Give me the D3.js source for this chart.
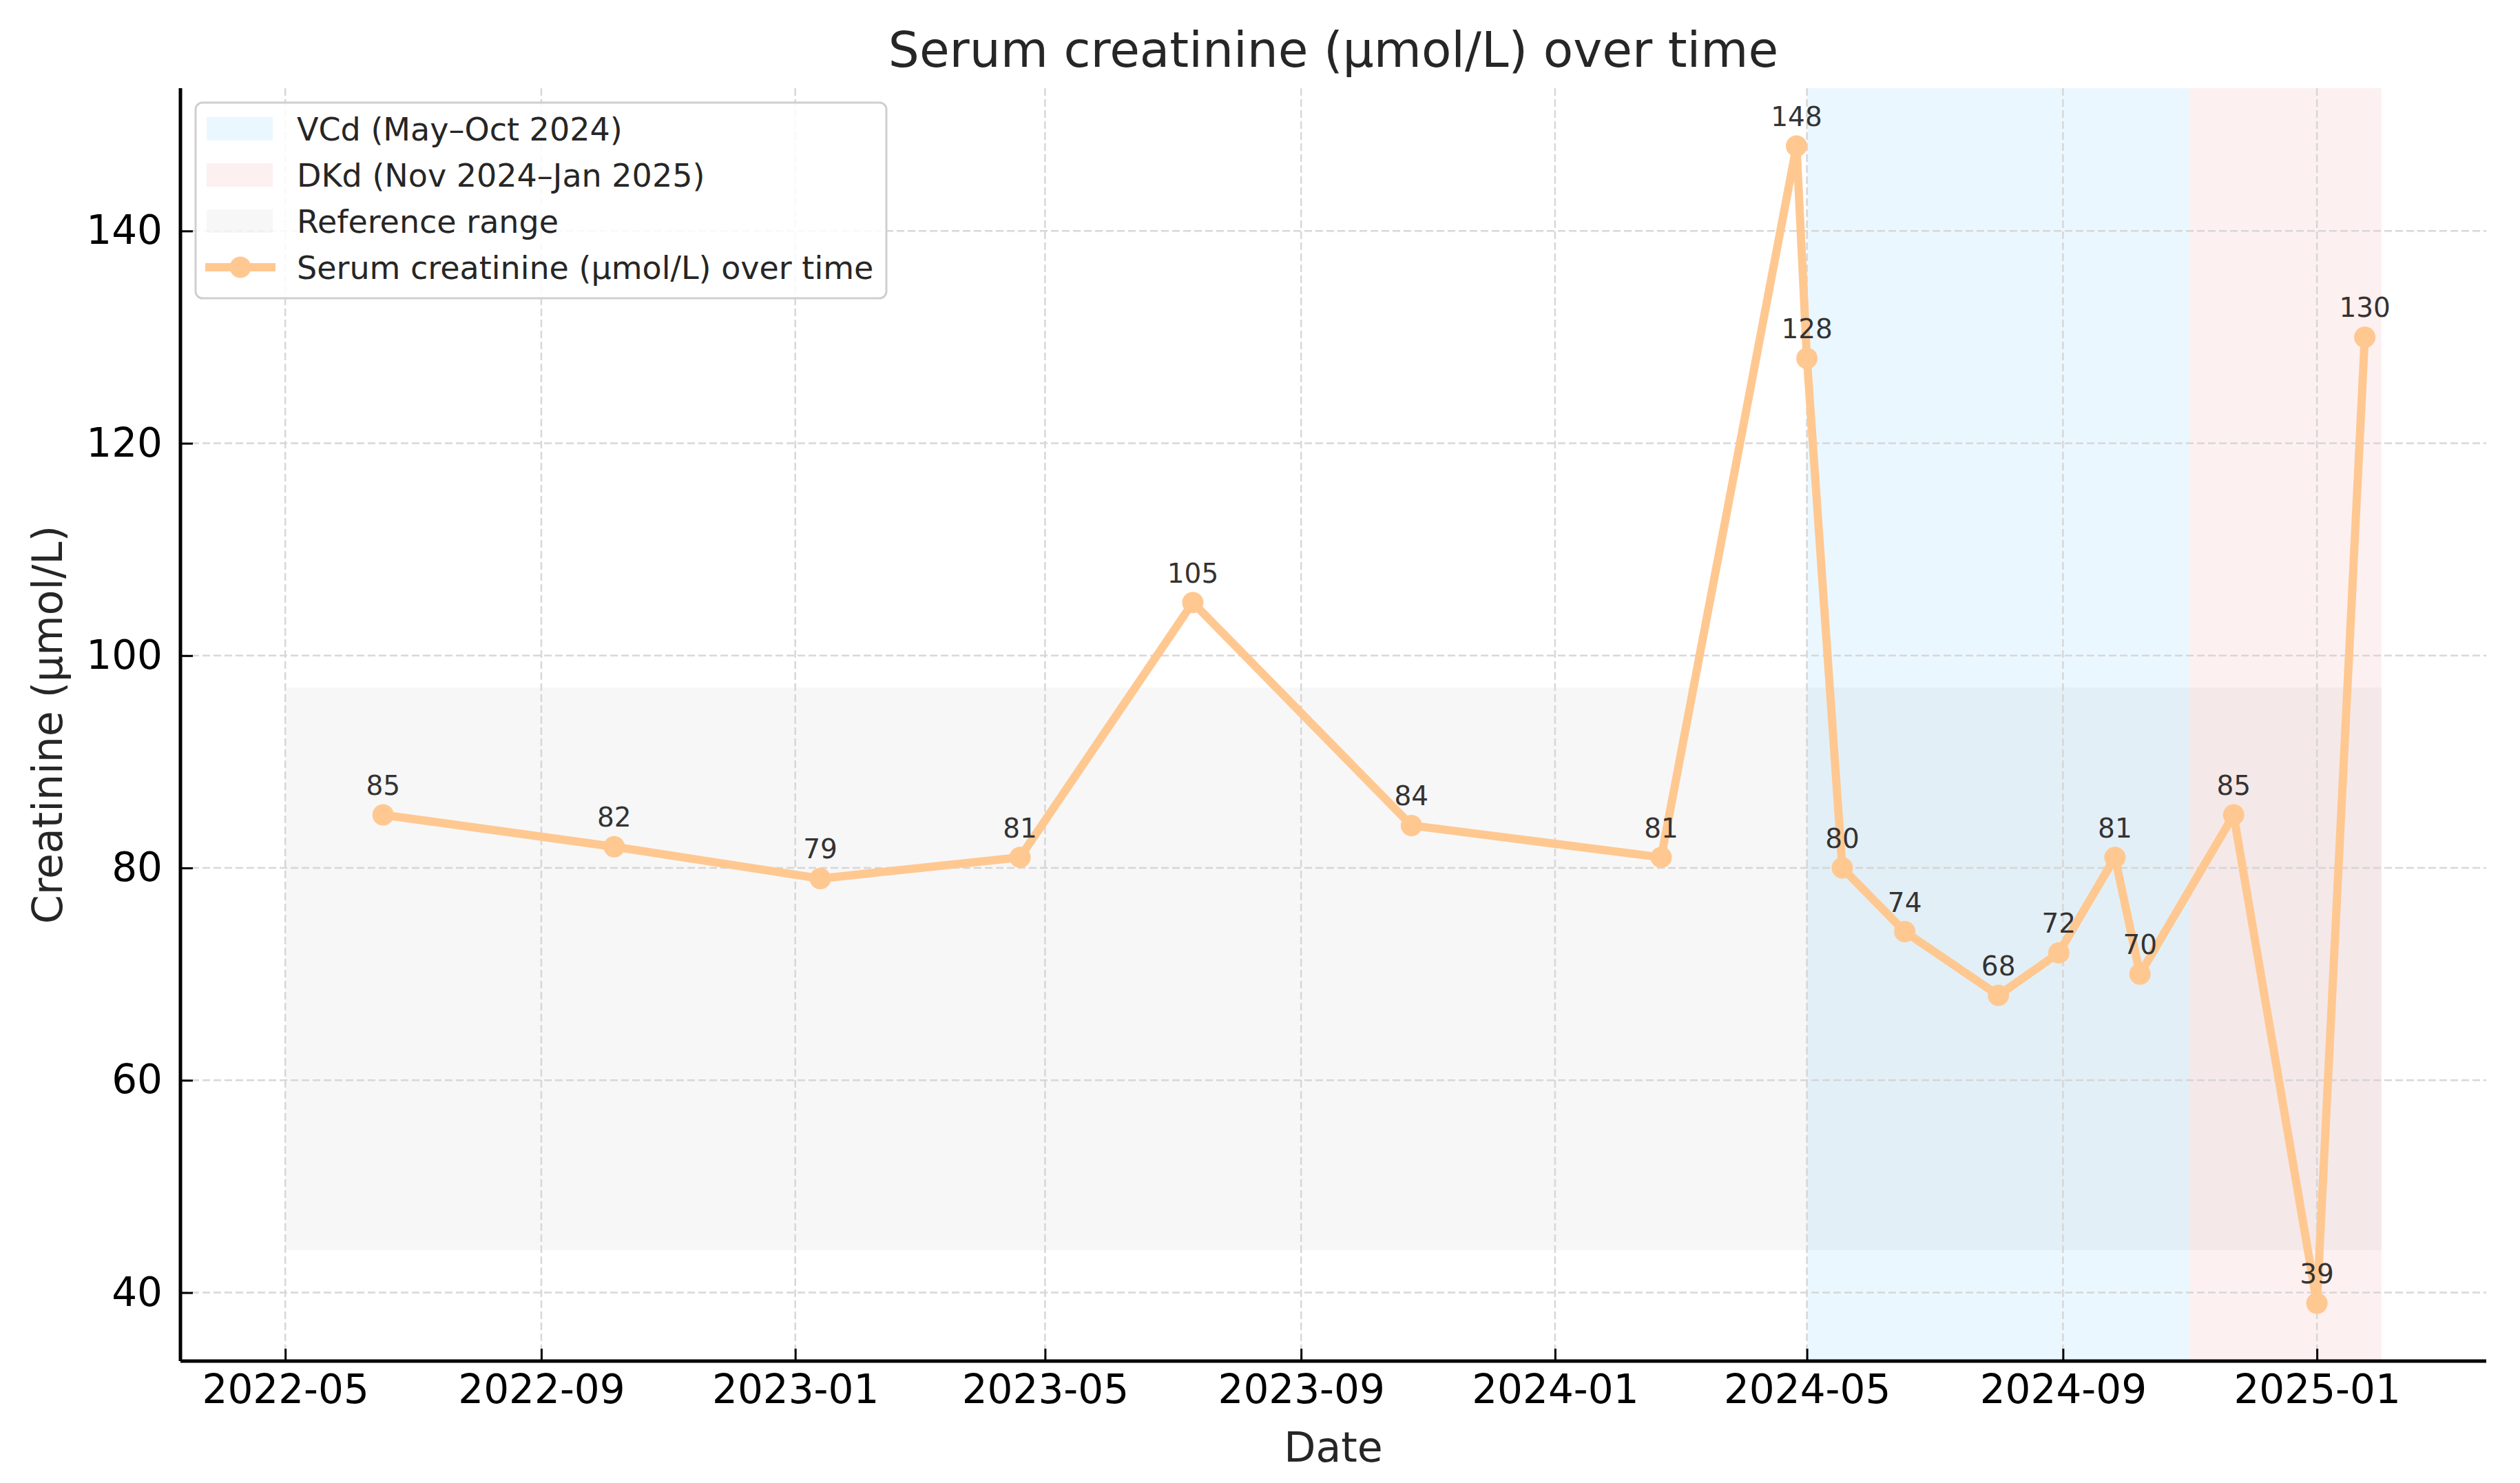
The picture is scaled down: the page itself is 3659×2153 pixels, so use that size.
<!DOCTYPE html>
<html>
<head>
<meta charset="utf-8">
<script src="https://cdn.jsdelivr.net/npm/d3@7"></script>
<style>
  html, body { margin: 0; padding: 0; background: #ffffff; }
  svg { display: block; font-family: "DejaVu Sans", sans-serif; }
</style>
</head>
<body>
<svg id="chart" width="3659" height="2153"></svg>
<script>
// ---- data ----
const dates = ["2022-06-17","2022-10-06","2023-01-13","2023-04-19","2023-07-11","2023-10-24",
               "2024-02-21","2024-04-26","2024-05-01","2024-05-18","2024-06-17","2024-08-01",
               "2024-08-30","2024-09-26","2024-10-08","2024-11-22","2025-01-01","2025-01-24"];
const values = [85, 82, 79, 81, 105, 84, 81, 148, 128, 80, 74, 68, 72, 81, 70, 85, 39, 130];
const spanNames = ["VCd (May–Oct 2024)", "DKd (Nov 2024–Jan 2025)"];
const spanStarts = ["2024-05-01", "2024-11-01"];
const spanEnds = ["2024-11-01", "2025-02-01"];
const refRangeLabel = "Reference range";
const refLow = 44, refHigh = 97;
const refStart = "2022-05-01", refEnd = "2025-02-01";
const yTicks = [40, 60, 80, 100, 120, 140];
const titleText = "Serum creatinine (µmol/L) over time";
const seriesName = "Serum creatinine (µmol/L) over time";
const xLabel = "Date";
const yLabel = "Creatinine (µmol/L)";

// ---- layout ----
const W = 3659, H = 2153;
const m = { left: 262, right: 3610, top: 128, bottom: 1976 };
const parse = d3.utcParse("%Y-%m-%d");
const svg = d3.select("#chart");

const xMin = parse(refStart), xMax = parse(spanEnds[1]);
const xPad = (xMax - xMin) * 0.05;
const x = d3.scaleUtc()
  .domain([new Date(+xMin - xPad), new Date(+xMax + xPad)])
  .range([m.left, m.right]);
const yExt = d3.extent(values);
const yPad = (yExt[1] - yExt[0]) * 0.05;
const y = d3.scaleLinear()
  .domain([yExt[0] - yPad, yExt[1] + yPad])
  .range([m.bottom, m.top]);

const spanColors = ["rgba(135,206,250,0.17)", "rgba(240,128,128,0.12)"];
const refColor = "rgba(0,0,0,0.032)";
const lineColor = "#ffc891";

// spans
spanNames.forEach((n, i) => {
  svg.append("rect")
    .attr("x", x(parse(spanStarts[i])))
    .attr("y", m.top)
    .attr("width", x(parse(spanEnds[i])) - x(parse(spanStarts[i])))
    .attr("height", m.bottom - m.top)
    .attr("fill", spanColors[i]);
});
// reference range
svg.append("rect")
  .attr("x", x(parse(refStart)))
  .attr("y", y(refHigh))
  .attr("width", x(parse(refEnd)) - x(parse(refStart)))
  .attr("height", y(refLow) - y(refHigh))
  .attr("fill", refColor);

// grid
const xTickVals = x.ticks(d3.utcMonth.every(4));
const grid = svg.append("g").attr("stroke", "#d4d4d4").attr("stroke-width", 2.5)
  .attr("stroke-dasharray", "11,5").attr("opacity", 0.9);
xTickVals.forEach(t => {
  grid.append("line").attr("x1", x(t)).attr("x2", x(t)).attr("y1", m.top).attr("y2", m.bottom);
});
yTicks.forEach(t => {
  grid.append("line").attr("x1", m.left).attr("x2", m.right).attr("y1", y(t)).attr("y2", y(t));
});

// line
const pts = dates.map((d, i) => ({ d: parse(d), v: values[i] }));
svg.append("path")
  .datum(pts)
  .attr("fill", "none")
  .attr("stroke", lineColor)
  .attr("stroke-width", 12)
  .attr("stroke-linejoin", "round")
  .attr("stroke-linecap", "round")
  .attr("d", d3.line().x(p => x(p.d)).y(p => y(p.v)));
svg.append("g").selectAll("circle").data(pts).join("circle")
  .attr("cx", p => x(p.d)).attr("cy", p => y(p.v)).attr("r", 15.5).attr("fill", lineColor);
svg.append("g").selectAll("text").data(pts).join("text")
  .attr("x", p => x(p.d)).attr("y", p => y(p.v) - 29)
  .attr("text-anchor", "middle").attr("font-size", 39).attr("fill", "#333")
  .text(p => p.v);

// axes
const xAxis = svg.append("g").attr("transform", `translate(0,${m.bottom})`)
  .call(d3.axisBottom(x).tickValues(xTickVals).tickFormat(d3.utcFormat("%Y-%m")).tickSize(-18).tickPadding(40));
const yAxis = svg.append("g").attr("transform", `translate(${m.left},0)`)
  .call(d3.axisLeft(y).tickValues(yTicks).tickSize(-18).tickPadding(26));
[xAxis, yAxis].forEach(a => {
  a.select(".domain").attr("stroke", "#000").attr("stroke-width", 5);
  a.selectAll(".tick line").attr("stroke", "#000").attr("stroke-width", 3);
  a.selectAll(".tick text").attr("font-size", 58).attr("fill", "#000")
    .attr("font-family", "DejaVu Sans");
});
xAxis.select(".domain").attr("d", `M${m.left},0H${m.right}`);
yAxis.select(".domain").attr("d", `M0,${m.top}V${m.bottom}`);
xAxis.selectAll(".tick text").attr("dy", "0.71em").attr("y", 20);

// labels
svg.append("text").attr("x", (m.left + m.right) / 2).attr("y", 97)
  .attr("text-anchor", "middle").attr("font-size", 71).attr("fill", "#262626").text(titleText);
svg.append("text").attr("x", (m.left + m.right) / 2).attr("y", 2122)
  .attr("text-anchor", "middle").attr("font-size", 60).attr("fill", "#262626").text(xLabel);
svg.append("text").attr("transform", `translate(90,${(m.top + m.bottom) / 2}) rotate(-90)`)
  .attr("text-anchor", "middle").attr("font-size", 60).attr("fill", "#262626").text(yLabel);

// legend
const lg = svg.append("g");
lg.append("rect").attr("x", 284).attr("y", 149).attr("width", 1003).attr("height", 284)
  .attr("rx", 10).attr("fill", "rgba(255,255,255,0.85)").attr("stroke", "#cfcfcf").attr("stroke-width", 3);
const legendItems = [
  { label: spanNames[0], type: "patch", color: spanColors[0] },
  { label: spanNames[1], type: "patch", color: spanColors[1] },
  { label: refRangeLabel, type: "patch", color: refColor },
  { label: seriesName, type: "line", color: lineColor }
];
legendItems.forEach((it, i) => {
  const cy = 187 + i * 67;
  if (it.type === "patch") {
    lg.append("rect").attr("x", 300).attr("y", cy - 17).attr("width", 96).attr("height", 34)
      .attr("fill", it.color);
  } else {
    lg.append("line").attr("x1", 298).attr("x2", 400).attr("y1", cy).attr("y2", cy)
      .attr("stroke", it.color).attr("stroke-width", 12);
    lg.append("circle").attr("cx", 349).attr("cy", cy).attr("r", 15.5).attr("fill", it.color);
  }
  lg.append("text").attr("x", 431).attr("y", cy).attr("dy", "0.36em")
    .attr("font-size", 46).attr("fill", "#262626").text(it.label);
});
</script>
</body>
</html>
